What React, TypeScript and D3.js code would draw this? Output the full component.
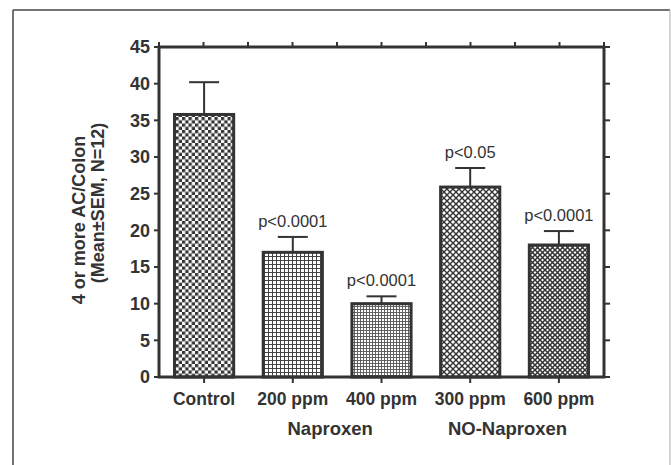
import React from 'react';
import * as d3 from 'd3';

// data
const categories = ['Control', '200 ppm', '400 ppm', '300 ppm', '600 ppm'];
const means = [35.8, 17, 10, 25.9, 18];
const sem = [4.4, 2.1, 1.0, 2.6, 1.9];
const pLabels = ['', 'p<0.0001', 'p<0.0001', 'p<0.05', 'p<0.0001'];
const groupNames = ['Naproxen', 'NO-Naproxen'];
const groupMembers = [['200 ppm', '400 ppm'], ['300 ppm', '600 ppm']];
const yTickValues = [0, 5, 10, 15, 20, 25, 30, 35, 40, 45];
const yTitle = ['4 or more AC/Colon', '(Mean±SEM, N=12)'];

const W = 671;
const H = 465;
const INK = '#333';
const FONT = "'Liberation Sans', Arial, sans-serif";

const patternIds = ['pat-checker', 'pat-grid', 'pat-finegrid', 'pat-diamond', 'pat-diamond2'];

const App = () => {
    const margin = { top: 47, right: 67, bottom: 88, left: 159 };
    const x = d3.scaleBand<string>()
        .domain(categories)
        .range([margin.left, W - margin.right])
        .paddingInner(0.333)
        .paddingOuter(0.175);

    const y = d3.scaleLinear()
        .domain([0, 45])
        .range([H - margin.bottom, margin.top]);

    // top axis has minor ticks at every half band
    const xTop = d3.scaleLinear().domain([0, 10]).range([margin.left, W - margin.right]);

    const x0 = margin.left;
    const x1 = W - margin.right;
    const y0 = y(0);
    const y1 = y(45);

    return (
        <svg width={W} height={H} style={{ position: 'absolute', left: 0, top: 0, background: '#fff' }}
            fontFamily={FONT}>
            <defs>
                <pattern id="pat-checker" width={6.5} height={6.5} patternUnits="userSpaceOnUse">
                    <rect width={6.5} height={6.5} fill="#fff" />
                    <rect width={3.25} height={3.25} fill={INK} />
                    <rect x={3.25} y={3.25} width={3.25} height={3.25} fill={INK} />
                </pattern>
                <pattern id="pat-grid" width={4} height={4} patternUnits="userSpaceOnUse">
                    <rect width={4} height={4} fill="#fff" />
                    <path d="M0 0.5H4M0.5 0V4" stroke="#444" strokeWidth={1} />
                </pattern>
                <pattern id="pat-finegrid" width={3} height={3} patternUnits="userSpaceOnUse">
                    <rect width={3} height={3} fill="#fff" />
                    <path d="M0 0.5H3M0.5 0V3" stroke="#555" strokeWidth={0.9} />
                </pattern>
                <pattern id="pat-diamond" width={6} height={6} patternUnits="userSpaceOnUse">
                    <rect width={6} height={6} fill="#fff" />
                    <path d="M0 0L6 6M6 0L0 6" stroke={INK} strokeWidth={1.4} />
                </pattern>
                <pattern id="pat-diamond2" width={5} height={5} patternUnits="userSpaceOnUse">
                    <rect width={5} height={5} fill="#fff" />
                    <path d="M0 0L5 5M5 0L0 5" stroke={INK} strokeWidth={1.5} />
                </pattern>
            </defs>

            {/* outer frame */}
            <line x1={13} x2={13} y1={10} y2={H} stroke="#444" strokeWidth={1.5} />
            <line x1={13} x2={670} y1={10} y2={10} stroke="#444" strokeWidth={1.5} />
            <line x1={670} x2={670} y1={10} y2={H} stroke="#c8c8c8" strokeWidth={1.5} />

            {/* bars */}
            {categories.map((c, i) => {
                const bx = x(c) || 0;
                const cx = bx + x.bandwidth() / 2;
                const top = y(means[i]);
                const errTop = y(means[i] + sem[i]);
                return (
                    <g key={c}>
                        <line x1={cx} x2={cx} y1={top} y2={errTop} stroke={INK} strokeWidth={2} />
                        <line x1={cx - 15} x2={cx + 15} y1={errTop} y2={errTop} stroke={INK} strokeWidth={2} />
                        <rect x={bx} y={top} width={x.bandwidth()} height={y0 - top}
                            fill={`url(#${patternIds[i]})`} stroke={INK} strokeWidth={3} />
                        {pLabels[i] && (
                            <text x={cx} y={errTop - 10} textAnchor="middle" fontSize={16.5} fill={INK}>
                                {pLabels[i]}
                            </text>
                        )}
                        <text x={cx} y={405} textAnchor="middle" fontSize={17.5} fontWeight="bold" fill={INK}>
                            {c}
                        </text>
                        <line x1={cx} x2={cx} y1={y0} y2={y0 + 6} stroke={INK} strokeWidth={2} />
                    </g>
                );
            })}

            {/* group labels */}
            {groupNames.map((g, i) => {
                const m = groupMembers[i];
                const cx = ((x(m[0]) || 0) + (x(m[m.length - 1]) || 0) + x.bandwidth()) / 2 - 7;
                return (
                    <text key={g} x={cx} y={435} textAnchor="middle" fontSize={18.5} fontWeight="bold" fill={INK}>
                        {g}
                    </text>
                );
            })}

            {/* axes */}
            <path d={`M${x0},${y0}H${x1}V${y1}H${x0}Z`} fill="none" stroke={INK} strokeWidth={3} />
            {yTickValues.map(t => (
                <g key={t}>
                    <line x1={x0 - 5} x2={x0} y1={y(t)} y2={y(t)} stroke={INK} strokeWidth={2} />
                    <line x1={x1} x2={x1 + 6} y1={y(t)} y2={y(t)} stroke={INK} strokeWidth={2} />
                    <text x={x0 - 9} y={y(t)} dy="0.35em" textAnchor="end" fontSize={18} fontWeight="bold" fill={INK}>
                        {t}
                    </text>
                </g>
            ))}
            {xTop.ticks(10).map(t => (
                <line key={t} x1={xTop(t)} x2={xTop(t)} y1={y1} y2={y1 - 5} stroke={INK} strokeWidth={2} />
            ))}

            {/* y title */}
            <text transform={`translate(85,220) rotate(-90)`} textAnchor="middle" fontSize={18} fontWeight="bold" fill={INK}>
                {yTitle[0]}
            </text>
            <text transform={`translate(104,203) rotate(-90)`} textAnchor="middle" fontSize={18} fontWeight="bold" fill={INK}>
                {yTitle[1]}
            </text>
        </svg>
    );
};

export default App;
